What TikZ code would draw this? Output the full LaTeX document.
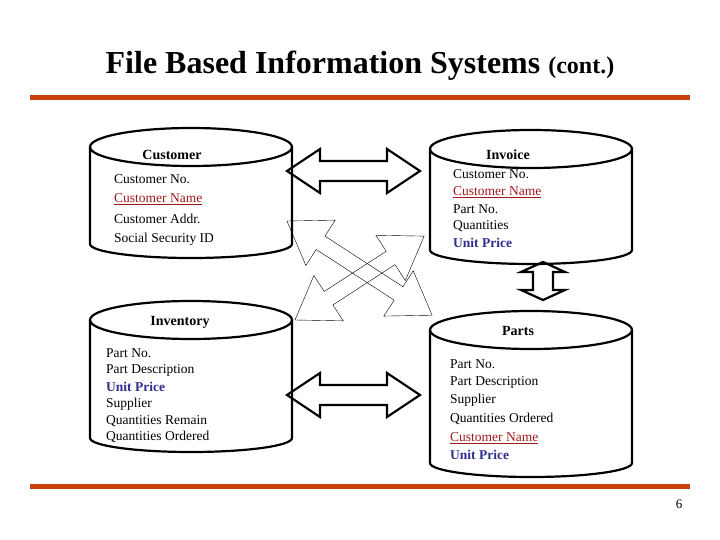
\documentclass[tikz,border=0pt]{standalone}
\usepackage{fontspec}
\setmainfont{Liberation Serif}
\usepackage{xcolor}
\definecolor{barred}{HTML}{C8410A}
\definecolor{keyred}{HTML}{A01818}
\definecolor{keyblue}{HTML}{2E2E8F}
\newcommand{\cyl}[4]{% x1, x2, ytop, ybot
  \draw[line width=2.2pt] ({(#1+#2)/2},#3) ellipse ({(#2-#1)/2} and 19);
  \draw[line width=2.2pt] (#1,#3) -- (#1,#4) arc[start angle=180,end angle=360,x radius={(#2-#1)/2},y radius=-14] -- (#2,#3);}
\newcommand{\darr}[5]{% length, head length, half shaft, half head, style
  \draw[#5] (0,0) -- (#2,-#4) -- (#2,-#3) -- ({#1-#2},-#3) -- ({#1-#2},-#4) -- (#1,0)
    -- ({#1-#2},#4) -- ({#1-#2},#3) -- (#2,#3) -- (#2,#4) -- cycle;}
\begin{document}
\begin{tikzpicture}[x=1pt,y=-1pt,
  item/.style={anchor=west,font=\fontsize{13.5}{13.5}\selectfont,inner sep=0},
  head/.style={font=\fontsize{14}{14}\selectfont\bfseries,inner sep=0},
  key/.style={item,text=keyred},
  price/.style={item,text=keyblue,font=\fontsize{13.5}{13.5}\selectfont\bfseries}]
\useasboundingbox (0,0) rectangle (720,540);
\node[font=\fontsize{32}{32}\selectfont\bfseries] (title) at (360,66) {File Based Information Systems {\fontsize{24}{24}\selectfont(cont.)}};
\fill[barred] (30,95) rectangle (690,100);
\fill[barred] (30,484) rectangle (690,489);
\node[font=\fontsize{13}{13}\selectfont] (page) at (679,504) {6};
% cylinders
\cyl{90}{292}{147}{244}
\cyl{430}{632}{149}{250}
\cyl{90}{292}{320}{438}
\cyl{430}{632}{330}{463}
% customer
\node[head] (customer) at (172,155) {Customer};
\node[item] (c1) at (114,179) {Customer No.};
\node[key] (c2) at (114,199) {\underline{Customer Name}};
\node[item] (c3) at (114,219) {Customer Addr.};
\node[item] (c4) at (114,239) {Social Security ID};
% invoice
\node[head] (invoice) at (508,155) {Invoice};
\node[item] (i1) at (453,174) {Customer No.};
\node[key] (i2) at (453,192) {\underline{Customer Name}};
\node[item] (i3) at (453,209) {Part No.};
\node[item] (i4) at (453,226) {Quantities};
\node[price] (i5) at (453,243) {Unit Price};
% inventory
\node[head] (inventory) at (180,322) {Inventory};
\node[item] (v1) at (106,353) {Part No.};
\node[item] (v2) at (106,370) {Part Description};
\node[price] (v3) at (106,387) {Unit Price};
\node[item] (v4) at (106,404) {Supplier};
\node[item] (v5) at (106,421) {Quantities Remain};
\node[item] (v6) at (106,437) {Quantities Ordered};
% parts
\node[head] (parts) at (518,331) {Parts};
\node[item] (p1) at (450,364) {Part No.};
\node[item] (p2) at (450,382) {Part Description};
\node[item] (p3) at (450,400) {Supplier};
\node[item] (p4) at (450,419) {Quantities Ordered};
\node[key] (p5) at (450,438) {\underline{Customer Name}};
\node[price] (p6) at (450,455) {Unit Price};
% arrows
\begin{scope}[shift={(287,171)}]\darr{133}{33}{10}{22}{line width=2.2pt}\end{scope}
\begin{scope}[shift={(287,395)}]\darr{133}{33}{10}{22}{line width=2.2pt}\end{scope}
\begin{scope}[shift={(543,262)},rotate=-90]\darr{38}{10}{10}{22}{line width=2.2pt}\end{scope}
\begin{scope}[shift={(287,221)},rotate=-33]\darr{173}{40}{8}{27}{thin}\end{scope}
\begin{scope}[shift={(295,320)},rotate=33]\darr{154}{40}{8}{27}{thin}\end{scope}
\end{tikzpicture}
\end{document}
